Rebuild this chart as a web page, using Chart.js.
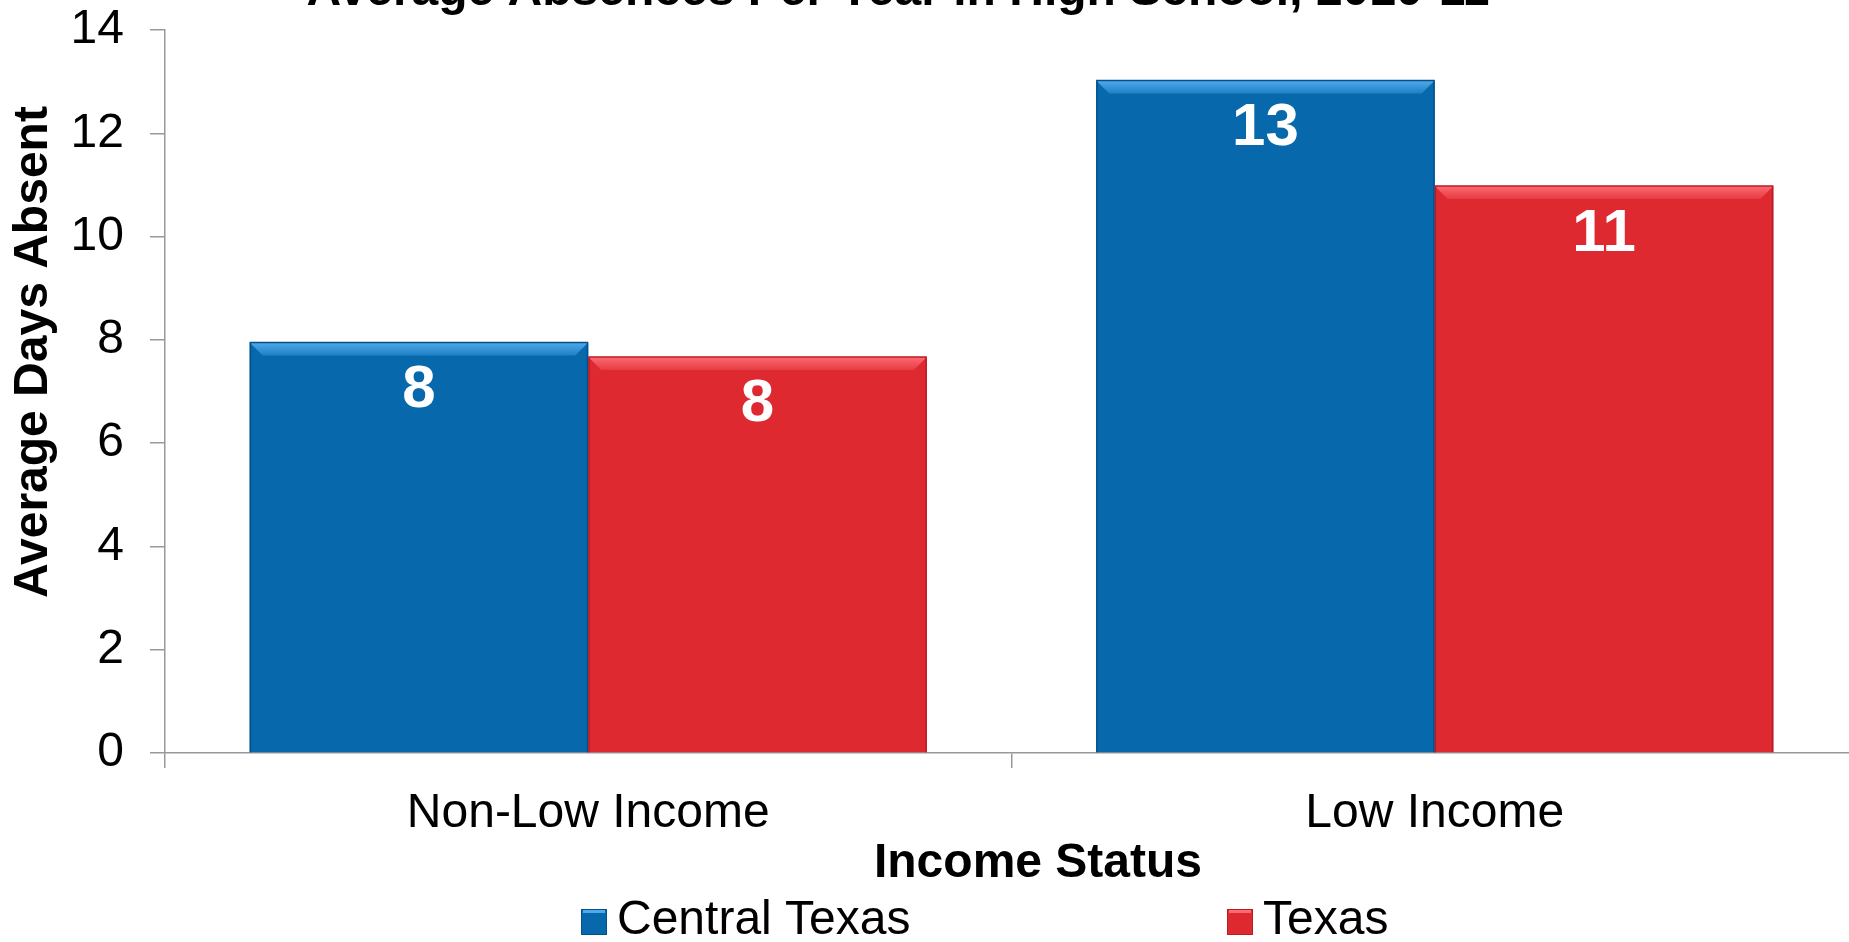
<!DOCTYPE html>
<html>
<head>
<meta charset="utf-8">
<title>Average Absences Per Year in High School, 2010-11</title>
<script src="https://cdn.jsdelivr.net/npm/chart.js@4/dist/chart.umd.min.js"></script>
<style>
  html, body { margin: 0; padding: 0; background: #fff; overflow: hidden; }
  /* the plot runs a little past the right edge of the window in the original */
  #wrap { width: 1858px; height: 942px; position: relative; }
</style>
</head>
<body>
<div id="wrap"><canvas id="absenceChart"></canvas></div>
<script>
const categories = ['Non-Low Income', 'Low Income'];
const seriesNames = ['Central Texas', 'Texas'];
const centralTexas = [7.95, 13.02];
const texas = [7.67, 10.98];
const yMin = 0;
const yMax = 14;
const yStep = 2;
const chartTitle = 'Average Absences Per Year in High School, 2010-11';
const xTitle = 'Income Status';
const yTitle = 'Average Days Absent';

const FONT = "'Liberation Sans', Arial, sans-serif";
const blue = '#0769AC';
const red = '#DE2931';
const bevel = {};
bevel[blue] = ['#4FAAEA', '#1F80C4', '#04508A'];
bevel[red] = ['#FF6A72', '#E53C44', '#B81C24'];

// light strip on top of each bar, like the office 3d look
const bevelPlugin = {
    id: 'bevel',
    afterDatasetsDraw(chart) {
        const ctx = chart.ctx;
        chart.data.datasets.forEach((ds, i) => {
            const meta = chart.getDatasetMeta(i);
            const cols = bevel[ds.backgroundColor];
            meta.data.forEach(bar => {
                const {x, y, base, width} = bar.getProps(['x', 'y', 'base', 'width'], true);
                const left = x - width / 2, right = x + width / 2;
                const b = 13;
                ctx.save();
                const g = ctx.createLinearGradient(0, y, 0, y + b);
                g.addColorStop(0, cols[0]);
                g.addColorStop(1, cols[1]);
                ctx.fillStyle = g;
                ctx.beginPath();
                ctx.moveTo(left, y);
                ctx.lineTo(right, y);
                ctx.lineTo(right - b, y + b);
                ctx.lineTo(left + b, y + b);
                ctx.closePath();
                ctx.fill();
                ctx.strokeStyle = cols[2];
                ctx.lineWidth = 1.5;
                ctx.beginPath();
                ctx.moveTo(left + 0.75, base);
                ctx.lineTo(left + 0.75, y);
                ctx.lineTo(right - 0.75, y);
                ctx.lineTo(right - 0.75, base);
                ctx.stroke();
                ctx.restore();
            });
        });
    }
};

const valueLabels = {
    id: 'valueLabels',
    afterDatasetsDraw(chart) {
        const ctx = chart.ctx;
        ctx.save();
        ctx.font = 'bold 60px ' + FONT;
        ctx.fillStyle = '#fff';
        ctx.textAlign = 'center';
        ctx.textBaseline = 'middle';
        chart.data.datasets.forEach((ds, i) => {
            chart.getDatasetMeta(i).data.forEach((bar, j) => {
                ctx.fillText(Math.round(ds.data[j]), bar.x, bar.y + 48);
            });
        });
        ctx.restore();
    }
};

// title, axis titles and legend sit off-centre in the original, so they are placed by hand
const textPlugin = {
    id: 'textPlugin',
    afterDraw(chart) {
        const ctx = chart.ctx;
        ctx.save();
        ctx.font = 'bold 48px ' + FONT;
        ctx.fillStyle = '#000';
        ctx.textAlign = 'center';
        ctx.textBaseline = 'alphabetic';
        ctx.fillText(chartTitle, 898, 5);

        ctx.textBaseline = 'middle';
        ctx.fillText(xTitle, 1038, 864);

        ctx.save();
        ctx.translate(34, 352);
        ctx.rotate(-Math.PI / 2);
        ctx.fillText(yTitle, 0, 0);
        ctx.restore();

        const boxX = [581, 1227];
        ctx.font = '48px ' + FONT;
        ctx.textAlign = 'left';
        chart.data.datasets.forEach((ds, i) => {
            const cols = bevel[ds.backgroundColor];
            ctx.fillStyle = ds.backgroundColor;
            ctx.fillRect(boxX[i], 909, 26, 26);
            ctx.fillStyle = cols[0];
            ctx.fillRect(boxX[i] + 2, 909, 22, 4);
            ctx.strokeStyle = cols[2];
            ctx.lineWidth = 1;
            ctx.strokeRect(boxX[i] + 0.5, 909.5, 25, 25);
            ctx.fillStyle = '#000';
            ctx.fillText(ds.label, boxX[i] + 36, 921);
        });
        ctx.restore();
    }
};

const ctx = document.getElementById('absenceChart').getContext('2d');
const absenceChart = new Chart(ctx, {
    type: 'bar',
    data: {
        labels: categories,
        datasets: [{
            label: seriesNames[0],
            data: centralTexas,
            backgroundColor: blue,
            borderWidth: 0
        }, {
            label: seriesNames[1],
            data: texas,
            backgroundColor: red,
            borderWidth: 0
        }]
    },
    plugins: [bevelPlugin, valueLabels, textPlugin],
    options: {
        responsive: true,
        maintainAspectRatio: false,
        animation: false,
        devicePixelRatio: 1,
        categoryPercentage: 0.8,
        barPercentage: 1.0,
        layout: {
            padding: { top: 0, left: 44.6, right: 0, bottom: 82.4 }
        },
        plugins: {
            legend: { display: false },
            title: { display: false },
            tooltip: { enabled: false }
        },
        scales: {
            x: {
                grid: {
                    offset: true,
                    drawOnChartArea: false,
                    tickLength: 15,
                    color: '#999',
                    lineWidth: 1.5
                },
                border: { color: '#999', width: 1.5 },
                ticks: {
                    font: { family: FONT, size: 48 },
                    color: '#000',
                    padding: 17
                }
            },
            y: {
                min: yMin,
                max: yMax,
                grid: {
                    drawOnChartArea: false,
                    tickLength: 15,
                    color: '#999',
                    lineWidth: 1.5
                },
                border: { color: '#999', width: 1.5 },
                ticks: {
                    stepSize: yStep,
                    font: { family: FONT, size: 48, lineHeight: 0.1667 },
                    color: '#000',
                    padding: 26
                }
            }
        }
    }
});
</script>
</body>
</html>
